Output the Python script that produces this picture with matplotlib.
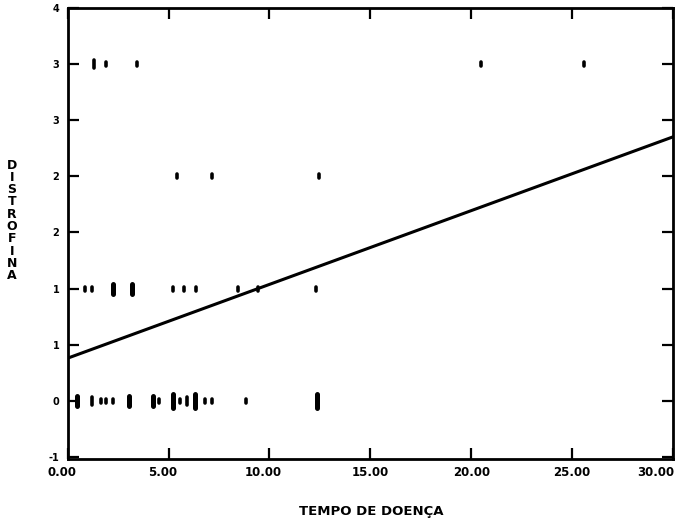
import matplotlib
matplotlib.use("Agg")
import matplotlib.pyplot as plt
from matplotlib.markers import MarkerStyle
from matplotlib.transforms import ScaledTranslation

# ---- dados ----
# linha 0
x_d0 = [0.45, 1.19, 1.64, 1.88, 2.23, 3.02, 4.21, 4.51, 5.20, 5.55, 5.90, 6.30, 6.79, 7.14, 8.82, 12.35]
n_d0 = [3, 2, 1, 1, 1, 3, 3, 1, 4, 1, 2, 4, 1, 1, 1, 4]
# linha 1
x_d1 = [0.84, 1.19, 2.23, 3.17, 5.20, 5.75, 6.35, 8.43, 9.42, 12.30]
n_d1 = [1, 1, 3, 3, 1, 1, 1, 1, 1, 1]
# linha 2
x_d2 = [5.40, 7.14, 12.44]
n_d2 = [1, 1, 1]
# linha 3
x_d3 = [1.29, 1.88, 3.42, 20.50, 25.60]
n_d3 = [2, 1, 1, 1, 1]

reg_intercept = 0.38
reg_slope = 0.0657

xticks = [0, 5, 10, 15, 20, 25, 30]
xtick_labels = ["0.00", "5.00", "10.00", "15.00", "20.00", "25.00", "30.00"]
yticks = [-0.5, 0, 0.5, 1.0, 1.5, 2.0, 2.5, 3.0, 3.5]
ytick_labels = ["-1", "0", "1", "1", "2", "2", "3", "3", "4"]

FONT = "DejaVu Sans"

fig = plt.figure(figsize=(6.77, 5.26), dpi=100, facecolor="white")
ax = fig.add_axes([0.100, 0.127, 0.894, 0.858])

mk = MarkerStyle("|", capstyle="round")
for xs, ns, yv in ((x_d0, n_d0, 0), (x_d1, n_d1, 1), (x_d2, n_d2, 2), (x_d3, n_d3, 3)):
    for x, n in zip(xs, ns):
        ax.plot([x], [yv], ls="none", marker=mk, ms=1.0 + 2.1 * n,
                mew=2.6 + 1.0 * (n > 2), color="black", zorder=3)

xl = [0, 30]
ax.plot(xl, [reg_intercept + reg_slope * v for v in xl], color="black", lw=2.2, zorder=2)

ax.set_xlim(0, 30)
ax.set_ylim(-0.52, 3.5)
ax.set_xticks(xticks)
ax.set_xticklabels(xtick_labels)
ax.set_yticks(yticks)
ax.set_yticklabels(ytick_labels)
ax.tick_params(axis="both", direction="in", length=8, width=1.6, top=True, right=True)
ax.tick_params(axis="x", pad=5, labelsize=8.5)
ax.tick_params(axis="y", pad=6, labelsize=7)
for lab in ax.get_xticklabels() + ax.get_yticklabels():
    lab.set_fontweight("bold")
    lab.set_fontfamily(FONT)

# rotulos do eixo x ligeiramente deslocados como no original
xlabs = ax.get_xticklabels()
for lab in xlabs[:3]:
    lab.set_transform(lab.get_transform() + ScaledTranslation(-6 / 100, 0, fig.dpi_scale_trans))
xlabs[-1].set_horizontalalignment("right")
xlabs[-1].set_transform(xlabs[-1].get_transform() + ScaledTranslation(1 / 100, 0, fig.dpi_scale_trans))

for s in ax.spines.values():
    s.set_linewidth(2.0)

# rotulo do eixo y: letras empilhadas
letters = "DISTROFINA"
for i, ch in enumerate(letters):
    fig.text(12 / 677, 1 - (165 + i * 12.3) / 526, ch, ha="center", va="center",
             fontsize=9, fontweight="bold", family=FONT)

fig.text(371 / 677, 1 - 512 / 526, "TEMPO DE DOENÇA", ha="center", va="center",
         fontsize=9.5, fontweight="bold", family=FONT)

fig.savefig("out.png", dpi=100, facecolor="white")
